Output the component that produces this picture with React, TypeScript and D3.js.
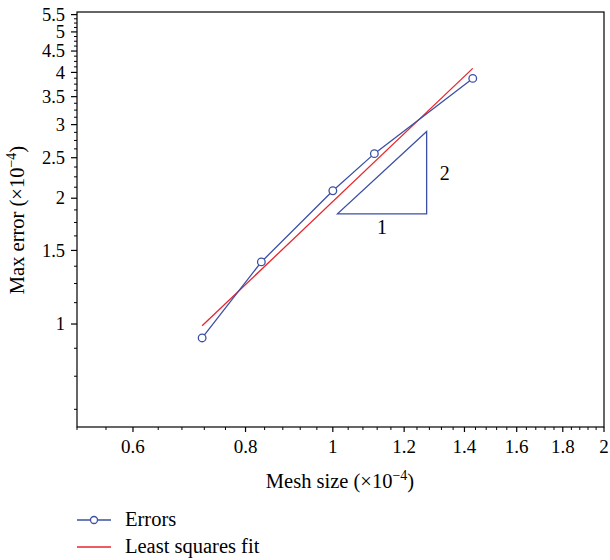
import React from "react";
import * as d3 from "d3";

const meshSizes = [0.716, 0.833, 1.0, 1.112, 1.43];
const maxErrors = [0.926, 1.408, 2.084, 2.557, 3.87];
const fitX = [0.716, 1.43];
const fitY = [0.99, 4.09];
const triX = [1.012, 1.271, 1.271, 1.012];
const triY = [1.835, 1.835, 2.887, 1.835];
const xMajor = [0.6, 0.8, 1, 1.2, 1.4, 1.6, 1.8, 2];
const xMajorLabels = ["0.6", "0.8", "1", "1.2", "1.4", "1.6", "1.8", "2"];
const yMajor = [1, 1.5, 2, 2.5, 3, 3.5, 4, 4.5, 5, 5.5];
const yMajorLabels = ["1", "1.5", "2", "2.5", "3", "3.5", "4", "4.5", "5", "5.5"];
const legendLabels = ["Errors", "Least squares fit"];

const W = 610, H = 560;
const L = 77, R = 604, T = 12, B = 427;
const BLUE = "#3b4fa6";
const RED = "#e8252b";
const FONT = "'Liberation Serif', 'DejaVu Serif', serif";

export default function App() {
  const x = d3.scaleLog().domain([0.52, 2.0]).range([L, R]);
  const y = d3.scaleLog().domain([0.567, 5.58]).range([B, T]);
  const xMinor = d3.range(0.52, 2.0001, 0.04).filter(v => !xMajor.some(m => Math.abs(m - v) < 1e-6));
  const yMinor = d3.range(0.625, 5.5001, 0.125).filter(v => !yMajor.some(m => Math.abs(m - v) < 1e-6));
  const line = d3.line<[number, number]>().x(d => x(d[0])).y(d => y(d[1]));
  const errPts: [number, number][] = meshSizes.map((m, i) => [m, maxErrors[i]]);
  const fitPts: [number, number][] = fitX.map((m, i) => [m, fitY[i]]);
  const triPts: [number, number][] = triX.map((m, i) => [m, triY[i]]);

  return (
    <svg width={W} height={H} style={{ position: "absolute", left: 0, top: 0 }} fontFamily={FONT}>
      <rect x={0} y={0} width={W} height={H} fill="white" />
      <rect x={L} y={T} width={R - L} height={B - T} fill="none" stroke="black" strokeWidth={1.2} />
      {/* x ticks */}
      {xMajor.map((v, i) => (
        <g key={"xm" + i}>
          <line x1={x(v)} x2={x(v)} y1={B} y2={B + 5} stroke="black" strokeWidth={1.2} />
          <text x={x(v)} y={453} textAnchor="middle" fontSize={19}>{xMajorLabels[i]}</text>
        </g>
      ))}
      {xMinor.map((v, i) => (
        <line key={"xn" + i} x1={x(v)} x2={x(v)} y1={B} y2={B + 3} stroke="black" strokeWidth={1} />
      ))}
      {/* y ticks */}
      {yMajor.map((v, i) => (
        <g key={"ym" + i}>
          <line x1={L - 6} x2={L} y1={y(v)} y2={y(v)} stroke="black" strokeWidth={1.2} />
          <text x={65} y={y(v)} dy="0.33em" textAnchor="end" fontSize={18.5}>{yMajorLabels[i]}</text>
        </g>
      ))}
      {yMinor.map((v, i) => (
        <line key={"yn" + i} x1={L - 3} x2={L} y1={y(v)} y2={y(v)} stroke="black" strokeWidth={1} />
      ))}
      {/* axis titles */}
      <text x={340} y={488} textAnchor="middle" fontSize={20.5}>
        Mesh size (×10<tspan dy={-8} fontSize={14}>−4</tspan><tspan dy={8}>)</tspan>
      </text>
      <text transform="translate(24,220) rotate(-90)" textAnchor="middle" fontSize={20.5}>
        Max error (×10<tspan dy={-8} fontSize={14}>−4</tspan><tspan dy={8}>)</tspan>
      </text>
      {/* fit line */}
      <path d={line(fitPts) || ""} fill="none" stroke={RED} strokeWidth={1.3} />
      {/* errors */}
      <path d={line(errPts) || ""} fill="none" stroke={BLUE} strokeWidth={1.3} />
      {errPts.map((p, i) => (
        <circle key={"c" + i} cx={x(p[0])} cy={y(p[1])} r={3.8} fill="white" stroke={BLUE} strokeWidth={1.3} />
      ))}
      {/* triangle */}
      <path d={(line(triPts) || "") + "Z"} fill="none" stroke={BLUE} strokeWidth={1.3} />
      <text x={(x(triX[0]) + x(triX[1])) / 2} y={234} textAnchor="middle" fontSize={20}>1</text>
      <text x={x(triX[1]) + 18} y={(y(triY[0]) + y(triY[2])) / 2} dy="0.35em" textAnchor="middle" fontSize={20}>2</text>
      {/* legend */}
      <line x1={77} x2={111} y1={520} y2={520} stroke={BLUE} strokeWidth={1.3} />
      <circle cx={94} cy={520} r={3.5} fill="white" stroke={BLUE} strokeWidth={1.3} />
      <text x={125} y={526} fontSize={20.5}>{legendLabels[0]}</text>
      <line x1={77} x2={111} y1={547} y2={547} stroke={RED} strokeWidth={1.3} />
      <text x={125} y={553} fontSize={20.5}>{legendLabels[1]}</text>
    </svg>
  );
}
